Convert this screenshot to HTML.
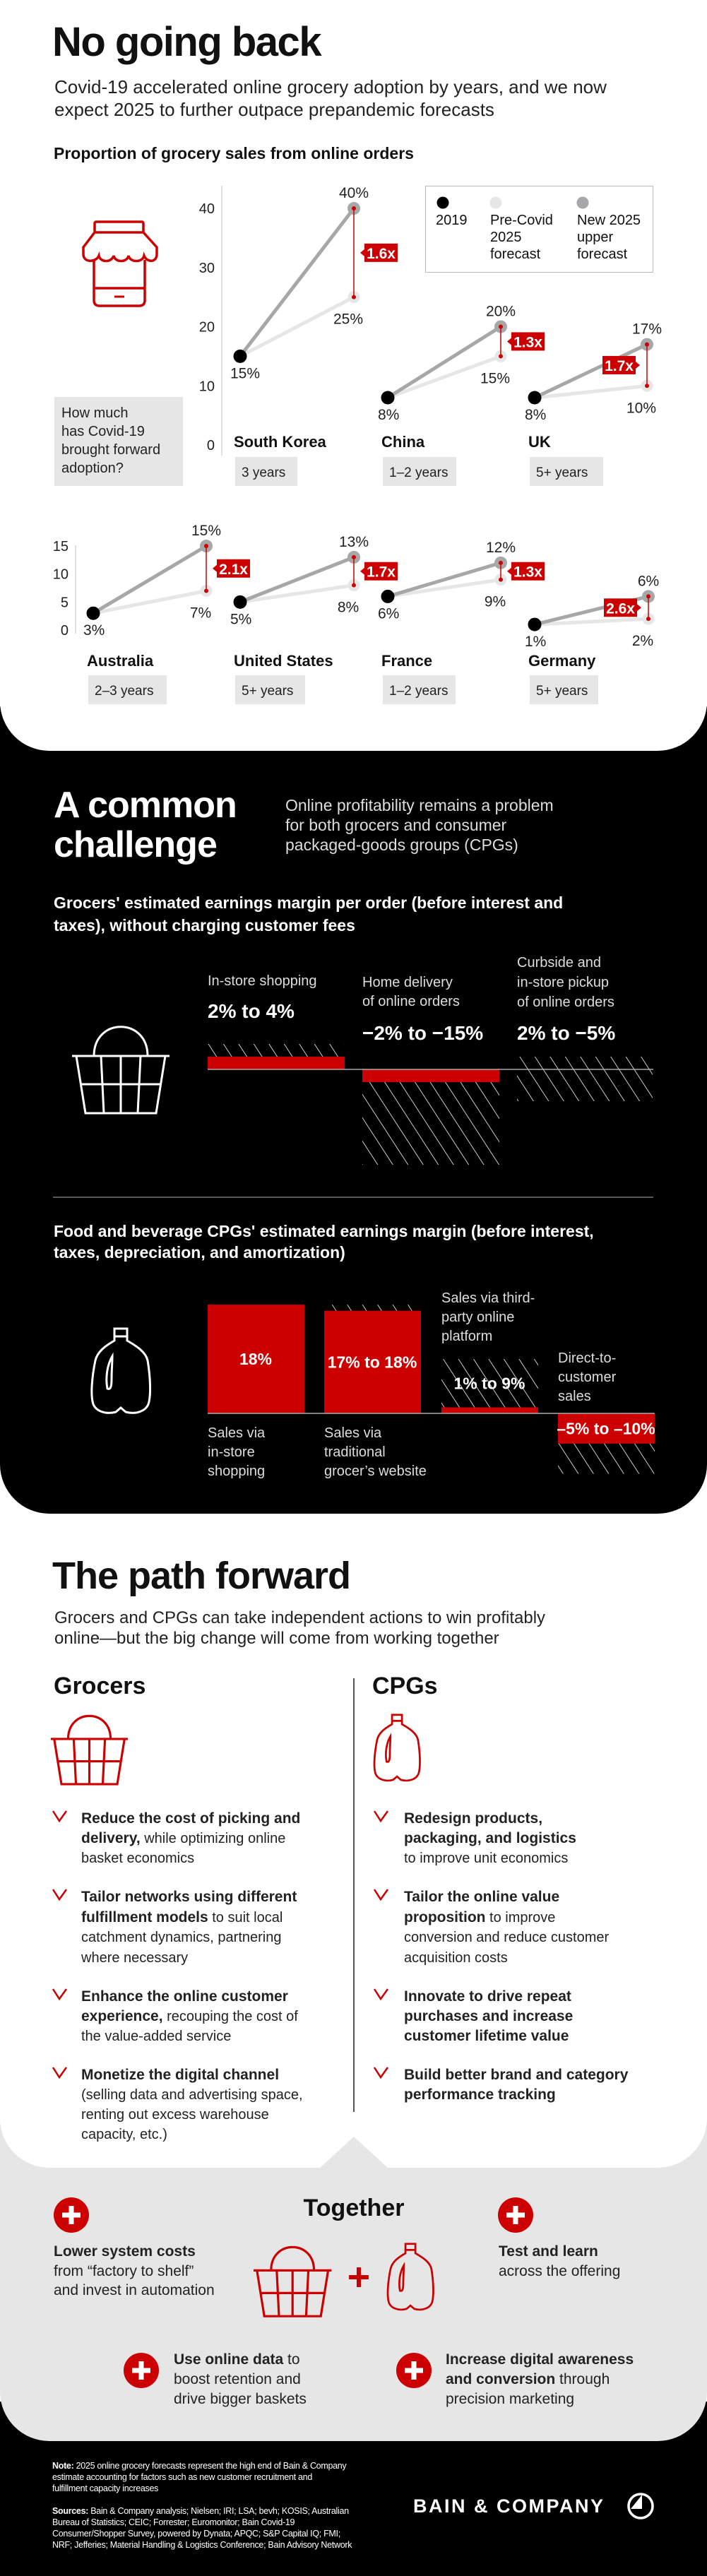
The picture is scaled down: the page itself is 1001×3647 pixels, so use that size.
<!DOCTYPE html>
<html><head><meta charset="utf-8">
<style>
*{margin:0;padding:0;box-sizing:border-box}
body{width:1001px;height:3647px;position:relative;background:#fff;font-family:"Liberation Sans",sans-serif;color:#111;overflow:hidden}
.p{position:absolute;left:0;width:1001px}
.t{position:absolute;white-space:nowrap}
.n{font-family:"Liberation Sans Narrow","Liberation Sans",sans-serif;font-weight:bold}
.w{color:#fff}
svg{position:absolute;left:0;top:0}
</style></head><body>
<div class="p" style="top:3400px;height:247px;background:#000"></div>
<div class="p" style="top:2990px;height:466px;background:#e6e6e6;border-radius:0 0 70px 70px"></div>
<div class="p" style="top:2100px;height:969px;background:#fff;border-radius:0 0 70px 70px"></div>
<div class="p" style="top:1000px;height:1143px;background:#000;border-radius:0 0 70px 70px"></div>
<div class="p" style="top:0;height:1063px;background:#fff;border-radius:0 0 70px 70px"></div>

<svg id="g" width="1001" height="3647">
<defs>
<pattern id="hatch" width="18" height="18" patternUnits="userSpaceOnUse" patternTransform="rotate(-33)">
<line x1="0" y1="0" x2="0" y2="18" stroke="#fff" stroke-width="1.6"/>
</pattern>
</defs>
<circle cx="627" cy="287" r="8.5" fill="#000"/>
<circle cx="702" cy="287" r="8.5" fill="#e6e6e6"/>
<circle cx="825" cy="287" r="8.5" fill="#a7a7aa"/>
</svg>

<!-- Section 1 text -->
<div class="t n" style="left:74px;top:30px;font-size:58px;line-height:60px;letter-spacing:-1.5px">No going back</div>
<div class="t" style="left:77px;top:107px;font-size:26px;line-height:32px;color:#222">Covid-19 accelerated online grocery adoption by years, and we now<br>expect 2025 to further outpace prepandemic forecasts</div>
<div class="t n" style="left:76px;top:203px;font-size:23px;line-height:28px">Proportion of grocery sales from online orders</div>
<div style="position:absolute;left:602px;top:263px;width:323px;height:123px;border:1.5px solid #bbb"></div>
<div class="t" style="left:617px;top:300px;font-size:20px;line-height:24px">2019</div>
<div class="t" style="left:694px;top:300px;font-size:20px;line-height:24px">Pre-Covid<br>2025<br>forecast</div>
<div class="t" style="left:817px;top:300px;font-size:20px;line-height:24px">New 2025<br>upper<br>forecast</div>
<div style="position:absolute;left:77px;top:562px;width:182px;height:126px;background:#e6e6e6"></div>
<div class="t" style="left:87px;top:572px;font-size:20px;line-height:26px;color:#222">How much<br>has Covid-19<br>brought forward<br>adoption?</div>

<!-- Section 2 text -->
<div class="t n w" style="left:76px;top:1112px;font-size:52px;line-height:56px;letter-spacing:-1px">A common<br>challenge</div>
<div class="t" style="left:404px;top:1126px;font-size:23px;line-height:28px;color:#ddd">Online profitability remains a problem<br>for both grocers and consumer<br>packaged-goods groups (CPGs)</div>
<div class="t n w" style="left:76px;top:1262px;font-size:23px;line-height:32px">Grocers' estimated earnings margin per order (before interest and<br>taxes), without charging customer fees</div>
<div class="t w" style="left:294px;top:1376px;font-size:20px;line-height:26px;color:#ddd">In-store shopping</div>
<div class="t n w" style="left:294px;top:1417px;font-size:28px;line-height:30px">2% to 4%</div>
<div class="t w" style="left:513px;top:1378px;font-size:20px;line-height:27px;color:#ddd">Home delivery<br>of online orders</div>
<div class="t n w" style="left:513px;top:1448px;font-size:28px;line-height:30px">−2% to −15%</div>
<div class="t w" style="left:732px;top:1349px;font-size:20px;line-height:28px;color:#ddd">Curbside and<br>in-store pickup<br>of online orders</div>
<div class="t n w" style="left:732px;top:1448px;font-size:28px;line-height:30px">2% to −5%</div>
<div class="t n w" style="left:76px;top:1728px;font-size:23px;line-height:30px">Food and beverage CPGs' estimated earnings margin (before interest,<br>taxes, depreciation, and amortization)</div>
<div class="t w" style="left:625px;top:1825px;font-size:20px;line-height:27px;color:#ddd">Sales via third-<br>party online<br>platform</div>
<div class="t w" style="left:790px;top:1910px;font-size:20px;line-height:27px;color:#ddd">Direct-to-<br>customer<br>sales</div>
<div class="t w" style="left:294px;top:2016px;font-size:20px;line-height:27px;color:#ddd">Sales via<br>in-store<br>shopping</div>
<div class="t w" style="left:459px;top:2016px;font-size:20px;line-height:27px;color:#ddd">Sales via<br>traditional<br>grocer’s website</div>

<!-- Section 3 text -->
<div class="t n" style="left:74px;top:2203px;font-size:54px;line-height:56px;letter-spacing:-1px">The path forward</div>
<div class="t" style="left:77px;top:2276px;font-size:24px;line-height:29px;color:#222">Grocers and CPGs can take independent actions to win profitably<br>online—but the big change will come from working together</div>
<div class="t n" style="left:76px;top:2369px;font-size:34px;line-height:36px">Grocers</div>
<div class="t n" style="left:527px;top:2369px;font-size:34px;line-height:36px">CPGs</div>
<div style="position:absolute;left:500px;top:2376px;width:1.5px;height:614px;background:#555"></div>

<div class="t" style="left:115px;top:2561px;font-size:20px;line-height:28px;color:#222"><b class="n" style="font-size:21px">Reduce the cost of picking and<br>delivery,</b> while optimizing online<br>basket economics</div>
<div class="t" style="left:115px;top:2672px;font-size:20px;line-height:28.5px;color:#222"><b class="n" style="font-size:21px">Tailor networks using different<br>fulfillment models</b> to suit local<br>catchment dynamics, partnering<br>where necessary</div>
<div class="t" style="left:115px;top:2813px;font-size:20px;line-height:28px;color:#222"><b class="n" style="font-size:21px">Enhance the online customer<br>experience,</b> recouping the cost of<br>the value-added service</div>
<div class="t" style="left:115px;top:2924px;font-size:20px;line-height:28px;color:#222"><b class="n" style="font-size:21px">Monetize the digital channel</b><br>(selling data and advertising space,<br>renting out excess warehouse<br>capacity, etc.)</div>
<div class="t" style="left:572px;top:2561px;font-size:20px;line-height:28px;color:#222"><b class="n" style="font-size:21px">Redesign products,<br>packaging, and logistics</b><br>to improve unit economics</div>
<div class="t" style="left:572px;top:2672px;font-size:20px;line-height:28.5px;color:#222"><b class="n" style="font-size:21px">Tailor the online value<br>proposition</b> to improve<br>conversion and reduce customer<br>acquisition costs</div>
<div class="t" style="left:572px;top:2813px;font-size:20px;line-height:28px;color:#222"><b class="n" style="font-size:21px">Innovate to drive repeat<br>purchases and increase<br>customer lifetime value</b></div>
<div class="t" style="left:572px;top:2924px;font-size:20px;line-height:28px;color:#222"><b class="n" style="font-size:21px">Build better brand and category<br>performance tracking</b></div>

<!-- Section 4 text -->
<div class="t n" style="left:401px;width:200px;text-align:center;top:3107px;font-size:34px;line-height:38px">Together</div>
<div class="t" style="left:76px;top:3174px;font-size:21px;line-height:27.5px;color:#222"><b class="n">Lower system costs</b><br>from “factory to shelf”<br>and invest in automation</div>
<div class="t" style="left:706px;top:3174px;font-size:21px;line-height:27.5px;color:#222"><b class="n">Test and learn</b><br>across the offering</div>
<div class="t" style="left:246px;top:3327px;font-size:21px;line-height:28px;color:#222"><b class="n">Use online data</b> to<br>boost retention and<br>drive bigger baskets</div>
<div class="t" style="left:631px;top:3327px;font-size:21px;line-height:28px;color:#222"><b class="n">Increase digital awareness<br>and conversion</b> through<br>precision marketing</div>

<!-- Footer -->
<div class="t w" style="left:74px;top:3483px;font-size:12.5px;line-height:16px;letter-spacing:-0.3px"><b>Note:</b> 2025 online grocery forecasts represent the high end of Bain &amp; Company<br>estimate accounting for factors such as new customer recruitment and<br>fulfillment capacity increases</div>
<div class="t w" style="left:74px;top:3547px;font-size:12.5px;line-height:16px;letter-spacing:-0.3px"><b>Sources:</b> Bain &amp; Company analysis; Nielsen; IRI; LSA; bevh; KOSIS; Australian<br>Bureau of Statistics; CEIC; Forrester; Euromonitor; Bain Covid-19<br>Consumer/Shopper Survey, powered by Dynata; APQC; S&amp;P Capital IQ; FMI;<br>NRF; Jefferies; Material Handling &amp; Logistics Conference; Bain Advisory Network</div>
<div class="t w" style="left:585px;top:3532px;font-size:27px;line-height:32px;letter-spacing:2.5px;font-weight:bold">BAIN &amp; COMPANY</div>

<script>
// ---- Chart 1 data ----
const c1Countries=["South Korea","China","UK"];
const c1Base=[15,8,8];
const c1Pre=[25,15,10];
const c1New=[40,20,17];
const c1Mult=["1.6x","1.3x","1.7x"];
const c1Years=["3 years","1–2 years","5+ years"];
const c1Ticks=[0,10,20,30,40];
// ---- Chart 2 data ----
const c2Countries=["Australia","United States","France","Germany"];
const c2Base=[3,5,6,1];
const c2Pre=[7,8,9,2];
const c2New=[15,13,12,6];
const c2Mult=["2.1x","1.7x","1.3x","2.6x"];
const c2Years=["2–3 years","5+ years","1–2 years","5+ years"];
const c2Ticks=[0,5,10,15];
// ---- Grocer margins ----
const grCats=["In-store shopping","Home delivery","Curbside pickup"];
const grLow=[2,-2,2];
const grHigh=[4,-15,-5];
// ---- CPG margins ----
const cpCats=["In-store","Grocer website","Third-party","Direct-to-customer"];
const cpLow=[18,17,1,-5];
const cpHigh=[18,18,9,-10];
const cpLabels=["18%","17% to 18%","1% to 9%","–5% to –10%"];

const NS="http://www.w3.org/2000/svg";
const svg=document.getElementById('g');
function mk(tag,attrs,parent){const e=document.createElementNS(NS,tag);for(const k in attrs)e.setAttribute(k,attrs[k]);(parent||svg).appendChild(e);return e;}
function txt(x,y,s,attrs,parent){const e=mk('text',Object.assign({x:x,y:y,'font-family':'Liberation Sans, sans-serif'},attrs),parent);e.textContent=s;return e;}
const RED="#cc0000", GRAY="#a7a7aa", LIGHT="#e6e6e6";

function drawChart(names,base,pre,nw,mult,years,ticks,y,axisX,axisTop,axisBot,x0s,x1s,leftTag,nameY,boxY,boxW,id){
  const axis=mk('line',{x1:axisX,y1:axisTop,x2:axisX,y2:axisBot,stroke:'#ccc','stroke-width':1.2});
  
  
  ticks.forEach(v=>{const t=txt(axisX-10,y(v)+7,String(v),{'text-anchor':'end','font-size':20,fill:'#222'});
    
    });
  names.forEach((nm,i)=>{
    const g=mk('g',{});
    
    
    const xa=x0s[i], xb=x1s[i];
    mk('line',{x1:xa,y1:y(base[i]),x2:xb,y2:y(pre[i]),stroke:LIGHT,'stroke-width':5},g);
    mk('line',{x1:xa,y1:y(base[i]),x2:xb,y2:y(nw[i]),stroke:GRAY,'stroke-width':5},g);
    mk('circle',{cx:xb,cy:y(pre[i]),r:8.5,fill:LIGHT},g);
    mk('circle',{cx:xb,cy:y(nw[i]),r:9,fill:GRAY},g);
    mk('circle',{cx:xa,cy:y(base[i]),r:9.5,fill:'#000'},g);
    mk('line',{x1:xb,y1:y(pre[i]),x2:xb,y2:y(nw[i]),stroke:RED,'stroke-width':1.5},g);
    mk('circle',{cx:xb,cy:y(pre[i]),r:3,fill:RED},g);
    mk('circle',{cx:xb,cy:y(nw[i]),r:3,fill:RED},g);
    txt(xb,y(nw[i])-15,nw[i]+'%',{'text-anchor':'middle','font-size':21,fill:'#222'},g);
    txt(xb-8,y(pre[i])+38,pre[i]+'%',{'text-anchor':'middle','font-size':21,fill:'#222'},g);
    txt(xa-14,y(base[i])+31,base[i]+'%',{'font-size':21,fill:'#222'},g);
    const my=(y(pre[i])+y(nw[i]))/2;
    const tag=mk('g',{},g);
    
    
    if(leftTag[i]){
      const rx=xb-63;
      mk('rect',{x:rx,y:my-13,width:47,height:26,fill:RED},tag);
      mk('polygon',{points:(rx+47)+','+(my-5)+' '+(rx+53)+','+my+' '+(rx+47)+','+(my+5),fill:RED},tag);
      txt(rx+23.5,my+8,mult[i],{'text-anchor':'middle','font-size':21,'font-weight':'bold',fill:'#fff'},tag);
    }else{
      const rx=xb+15;
      mk('rect',{x:rx,y:my-13,width:47,height:26,fill:RED},tag);
      mk('polygon',{points:rx+','+(my-5)+' '+(rx-6)+','+my+' '+rx+','+(my+5),fill:RED},tag);
      txt(rx+23.5,my+8,mult[i],{'text-anchor':'middle','font-size':21,'font-weight':'bold',fill:'#fff'},tag);
    }
    txt(xa-9,nameY,nm,{'font-size':22,'font-weight':'bold','font-family':'Liberation Sans Narrow, Liberation Sans, sans-serif',fill:'#111'},g);
    mk('rect',{x:xa-7,y:boxY,width:boxW[i],height:41,fill:LIGHT},g);
    txt(xa+2,boxY+28,years[i],{'font-size':19,fill:'#222'},g);
  });
}
const y1=v=>630-v*8.375;
drawChart(c1Countries,c1Base,c1Pre,c1New,c1Mult,c1Years,c1Ticks,y1,314,263,645,[340,549,757],[501,709,916],[false,false,true],633,647,[88,104,104],'chart1');
const y2=v=>892-v*7.93;
drawChart(c2Countries,c2Base,c2Pre,c2New,c2Mult,c2Years,c2Ticks,y2,107,772,897,[132,340,549,757],[292,501,709,918],[false,false,false,true],943,956,[111,99,103,97],'chart2');

// ---- Grocer bars ----
const gy=v=>1514-v*9;
const grX=[294,513,732], grW=[194,194,192];
grCats.forEach((c,i)=>{
  const g=mk('g',{});
  
  
  const lo=grLow[i], hi=grHigh[i];
  if(lo*hi>0){
    mk('rect',{x:grX[i],y:Math.min(gy(0),gy(lo)),width:grW[i],height:Math.abs(gy(lo)-gy(0)),fill:RED},g);
    mk('rect',{x:grX[i],y:Math.min(gy(lo),gy(hi)),width:grW[i],height:Math.abs(gy(hi)-gy(lo)),fill:'url(#hatch)'},g);
  }else{
    mk('rect',{x:grX[i],y:Math.min(gy(lo),gy(hi)),width:grW[i],height:Math.abs(gy(hi)-gy(lo)),fill:'url(#hatch)'},g);
  }
});
const gb=mk('line',{x1:294,y1:1514,x2:925,y2:1514,stroke:'#aaa','stroke-width':1.5});


const sep=mk('line',{x1:75,y1:1695,x2:925,y2:1695,stroke:'#777','stroke-width':1.5});



// ---- CPG bars ----
const cy=v=>2001-v*8.55;
const cpX=[294,459,625,790];
cpCats.forEach((c,i)=>{
  const g=mk('g',{});
  
  
  const lo=cpLow[i], hi=cpHigh[i];
  mk('rect',{x:cpX[i],y:Math.min(cy(0),cy(lo)),width:137,height:Math.abs(cy(lo)-cy(0)),fill:RED},g);
  if(hi!==lo) mk('rect',{x:cpX[i],y:Math.min(cy(lo),cy(hi)),width:137,height:Math.abs(cy(hi)-cy(lo)),fill:'url(#hatch)'},g);
  const mid = lo>=2 ? (cy(0)+cy(lo))/2 : (lo<0 ? (cy(0)+cy(lo))/2 : (cy(lo)+cy(hi))/2);
  txt(cpX[i]+68,mid+8,cpLabels[i],{'text-anchor':'middle','font-size':23,'font-weight':'bold','font-family':'Liberation Sans Narrow, Liberation Sans, sans-serif',fill:'#fff'},g);
});
const cb=mk('line',{x1:294,y1:2001,x2:927,y2:2001,stroke:'#aaa','stroke-width':1.5});



// ---- Icons ----
function basket(x,y,s,color,sw,name){
  const g=mk('g',{transform:'translate('+x+','+y+') scale('+s+')',fill:'none',stroke:color,'stroke-width':sw});
  
  
  mk('path',{d:'M31,43 C31,-12 107,-12 107,43 M0,43 H138 M6,43 L19,124 H119 L132,43 M12,83 H126 M41,43 L45,124 M69,43 V124 M97,43 L93,124'},g);
}
function bottle(x,y,s,color,sw,name){
  const g=mk('g',{transform:'translate('+x+','+y+') scale('+s+')',fill:'none',stroke:color,'stroke-width':sw});
  
  
  mk('rect',{x:36,y:1,width:18,height:11},g);
  mk('path',{d:'M36,12 L36,18 C22,26 12,34 9,46 C4,70 2,96 6,108 C10,118 24,123 38,119 L45,113 L52,119 C66,123 80,118 84,108 C88,96 87,70 83,46 C80,34 68,26 54,18 L54,12'},g);
  mk('path',{d:'M33,40 C26,52 23,70 26,86 C31,88 32,82 32,72 C32,60 33,50 33,40 Z'},g);
}
// store icon
(function(){
  const g=mk('g',{fill:'none',stroke:RED,'stroke-width':3.5});
  
  
  mk('rect',{x:134,y:314,width:69,height:15,rx:2},g);
  mk('path',{d:'M134,329 L118,350 L118,360 C118,372 136,372 140,362 C142,372 158,372 161,362 C163,372 180,372 182,362 C184,372 202,372 204,362 C208,372 222,372 222,360 L222,350 L203,329'},g);
  mk('path',{d:'M133,368 V425 Q133,433 141,433 H197 Q205,433 205,425 V368 M133,408 H205'},g);
  mk('line',{x1:162,y1:420,x2:176,y2:420,'stroke-width':3},g);
})();
basket(102,1452,1,'#fff',3,'basket-icon-white');
bottle(126,1880,1,'#fff',3,'bottle-icon-white');
basket(72,2428,0.79,RED,4,'grocers-basket-icon');
bottle(527,2427,0.78,RED,3.5,'cpgs-bottle-icon');
basket(359,3180,0.8,RED,4,'together-basket-icon');
bottle(546,3176,0.78,RED,3.5,'together-bottle-icon');
const pl=mk('path',{d:'M508,3210 V3238 M494,3224 H522',stroke:RED,'stroke-width':6});



// check marks
[[75,2571],[75,2682],[75,2823],[75,2934],[530,2571],[530,2682],[530,2823],[530,2934]].forEach((p,i)=>{
  const c=mk('polyline',{points:(p[0])+','+(p[1]-7)+' '+(p[0]+9)+','+(p[1]+7)+' '+(p[0]+19)+','+(p[1]-7),fill:'none',stroke:RED,'stroke-width':2.5});
  
  
});
// notch triangle
const tri=mk('polygon',{points:'452,3070 501,3025 550,3070',fill:'#e6e6e6'});


// plus circles
[[101,3136],[730,3136],[200,3356],[586,3356]].forEach(p=>{
  const g=mk('g',{});
  
  
  mk('circle',{cx:p[0],cy:p[1],r:25,fill:RED},g);
  mk('path',{d:'M'+p[0]+','+(p[1]-13)+' V'+(p[1]+13)+' M'+(p[0]-13)+','+p[1]+' H'+(p[0]+13),stroke:'#fff','stroke-width':7},g);
});
// logo mark
(function(){
  const g=mk('g',{});
  
  
  mk('circle',{cx:907,cy:3548,r:17,fill:'none',stroke:'#fff','stroke-width':3.5},g);
  mk('polygon',{points:'909,3532 909,3552 893,3552',fill:'#fff'},g);
})();
</script>
</body></html>
